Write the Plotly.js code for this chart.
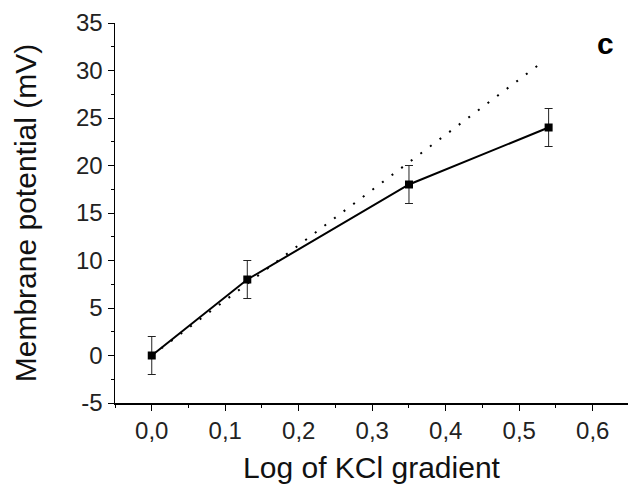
<!DOCTYPE html>
<html>
<head>
<meta charset="utf-8">
<script src="https://cdn.plot.ly/plotly-3.0.1.min.js"></script>
<style>html,body{margin:0;padding:0;background:#fff;}</style>
</head>
<body>
<div id="chart" style="width:628px;height:484px;"></div>
<script>
// Data
const logGradient = [0, 0.13, 0.35, 0.54];
const potential = [0, 8, 18, 24];
const potentialErr = [2, 2, 2, 2];
const nernstX = [0, 0.53];
const nernstY = [0, 30.8];
const xTickVals = [0, 0.1, 0.2, 0.3, 0.4, 0.5, 0.6];
const xTickText = ['0,0', '0,1', '0,2', '0,3', '0,4', '0,5', '0,6'];
const yTickVals = [-5, 0, 5, 10, 15, 20, 25, 30, 35];
const yTickText = ['-5', '0', '5', '10', '15', '20', '25', '30', '35'];

const font = 'Liberation Sans, Arial, Helvetica, sans-serif';

const traces = [
  {
    x: nernstX, y: nernstY, type: 'scatter', mode: 'lines',
    line: {color: '#000', width: 2, dash: '2px,10px'},
    hoverinfo: 'skip', showlegend: false
  },
  {
    x: logGradient, y: potential, type: 'scatter', mode: 'lines+markers',
    line: {color: '#000', width: 2},
    marker: {symbol: 'square', size: 8, color: '#000'},
    error_y: {type: 'data', array: potentialErr, visible: true, color: '#222', thickness: 1, width: 4},
    showlegend: false
  }
];

const layout = {
  width: 628, height: 484,
  margin: {l: 115, r: 0, t: 23, b: 81, pad: 0},
  paper_bgcolor: '#fff', plot_bgcolor: '#fff',
  font: {family: font, color: '#000'},
  showlegend: false,
  xaxis: {
    range: [-0.05, 0.648],
    tickvals: xTickVals, ticktext: xTickText,
    ticks: 'outside', ticklen: 6, tickwidth: 1, tickcolor: '#000',
    minor: {dtick: 0.05, tick0: 0, ticks: 'outside', ticklen: 3, tickwidth: 1, tickcolor: '#000', showgrid: false},
    showline: true, linecolor: '#000', linewidth: 1.5,
    showgrid: false, zeroline: false,
    tickfont: {size: 24, family: font, color: '#222'},
    title: {text: 'Log of KCl gradient', font: {size: 30, family: font, color: '#111'}, standoff: 18}
  },
  yaxis: {
    range: [-5, 35],
    tickvals: yTickVals, ticktext: yTickText,
    ticks: 'outside', ticklen: 6, tickwidth: 1, tickcolor: '#000',
    minor: {dtick: 2.5, tick0: 0, ticks: 'outside', ticklen: 3, tickwidth: 1, tickcolor: '#000', showgrid: false},
    showline: true, linecolor: '#000', linewidth: 1.5,
    showgrid: false, zeroline: false,
    tickfont: {size: 24, family: font, color: '#222'},
    title: {text: 'Membrane potential (mV)', font: {size: 30, family: font, color: '#111'}, standoff: 30}
  },
  annotations: [
    {text: '<b>c</b>', xref: 'paper', yref: 'paper', x: 0.957, y: 0.947,
     xanchor: 'center', yanchor: 'middle', showarrow: false,
     font: {size: 30, family: font, color: '#000'}}
  ]
};

Plotly.newPlot('chart', traces, layout, {displayModeBar: false, staticPlot: true});
</script>
</body>
</html>
